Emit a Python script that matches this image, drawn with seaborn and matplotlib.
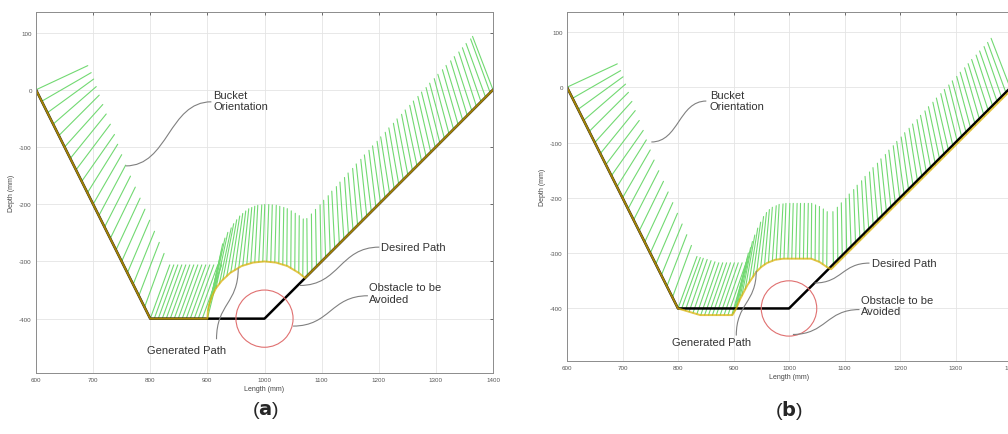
import numpy as np
import pandas as pd
import matplotlib
matplotlib.use('Agg')
import matplotlib.pyplot as plt
from matplotlib.path import Path
from matplotlib.patches import PathPatch, Circle
import seaborn as sns

sns.set_style('white')
plt.rcParams['font.family'] = ['Liberation Sans', 'DejaVu Sans']
plt.rcParams['axes.unicode_minus'] = False

# ---- values (mm) ----
desired_x = [600, 800, 1000, 1400]
desired_y = [0, -400, -400, 0]

obstacle_center = (1000, -400)
obstacle_radius = 50
bucket_len = 100

x_ticks = [600, 700, 800, 900, 1000, 1100, 1200, 1300, 1400]
y_ticks = [-400, -300, -200, -100, 0, 100]

# generated path, panel (a)
gen_a_x = [600, 800, 900, 901, 903, 908, 915, 925, 940, 960, 980, 1000, 1020, 1040, 1060, 1071, 1400]
gen_a_y = [0, -400, -400, -386, -376, -361, -347, -334, -320, -308, -302, -300, -302, -308, -320, -329, 0]

# generated path, panel (b)
gen_b_x = [600, 800, 840, 898, 905, 912, 925, 941, 950, 960, 975, 990, 1040, 1055, 1068, 1076, 1405]
gen_b_y = [0, -400, -412, -412, -400, -383, -358, -334, -325, -318, -312, -310, -310, -316, -325, -329, 0]

# bucket orientation: (x on path, angle in degrees)
bucket_slope = [(600, 25), (610, 30), (620, 36), (630, 41), (640, 45), (650, 48), (660, 51),
                (670, 53), (680, 55), (690, 58), (700, 60), (710, 62), (720, 63), (730, 64),
                (740, 65), (750, 66), (760, 67), (770, 68), (780, 69), (790, 70), (800, 70)]

bucket_a_flat = [(807, 70), (814, 70), (821, 70), (828, 70), (835, 70), (842, 70), (849, 70),
                 (856, 70), (863, 70), (870, 70), (877, 70), (884, 70), (891, 70)]
bucket_a_arc = [(900, 76), (901, 77), (903, 77), (906, 78), (910, 78), (915, 78), (921, 78),
                (927, 79), (934, 80), (941, 81), (948, 82), (955, 83), (962, 84), (969, 85),
                (976, 86), (983, 87), (990, 87), (997, 88), (1004, 88), (1011, 88.5), (1018, 88.5),
                (1025, 89), (1032, 89), (1039, 89.5), (1046, 89.5), (1053, 89.5), (1060, 89.5), (1067, 89.5)]
bucket_a_rise = [(1075, 90.5), (1083, 90.5), (1091, 91), (1099, 91), (1107, 92), (1115, 92), (1123, 93),
                 (1131, 93), (1139, 94), (1147, 94), (1155, 95), (1163, 95), (1171, 96), (1179, 96),
                 (1187, 97), (1195, 97), (1203, 98), (1211, 98), (1219, 99), (1227, 99), (1235, 100),
                 (1243, 100), (1251, 101), (1259, 101), (1267, 102), (1275, 102), (1283, 103),
                 (1291, 103), (1299, 104), (1307, 104), (1315, 105), (1323, 105), (1331, 106),
                 (1339, 106), (1347, 107), (1355, 107), (1363, 108), (1371, 108), (1379, 109),
                 (1387, 110), (1395, 110), (1400, 111)]

bucket_b_flat = [(806, 70), (813, 71), (820, 71), (827, 71), (834, 71), (841, 71), (848, 71),
                 (855, 71), (862, 71), (869, 71), (876, 71), (883, 71), (890, 71)]
bucket_b_arc = [(897, 74), (900, 76), (903, 77), (906, 78), (910, 78), (915, 79), (921, 80),
                (928, 81), (935, 82), (942, 83), (949, 84), (956, 85), (963, 86), (970, 86),
                (977, 87), (984, 87), (991, 88), (998, 88), (1005, 88.5), (1012, 88.5), (1019, 89),
                (1026, 89), (1033, 89), (1040, 89.5), (1047, 89.5), (1054, 89.5), (1061, 89.5), (1068, 89.5)]
bucket_b_rise = [(1080, 90.5), (1088, 90.5), (1096, 91), (1104, 91), (1112, 92), (1120, 92), (1128, 93),
                 (1136, 93), (1144, 94), (1152, 94), (1160, 95), (1168, 95), (1176, 96), (1184, 96),
                 (1192, 97), (1200, 97), (1208, 98), (1216, 98), (1224, 99), (1232, 99), (1240, 100),
                 (1248, 100), (1256, 101), (1264, 101), (1272, 102), (1280, 102), (1288, 103),
                 (1296, 103), (1304, 104), (1312, 104), (1320, 105), (1328, 105), (1336, 106),
                 (1344, 106), (1352, 107), (1360, 108), (1368, 108), (1376, 109), (1384, 109),
                 (1392, 110), (1400, 111)]

# label layout (text anchor, connector start, connector end), data coords
notes_a = [
    ('Bucket\nOrientation', (910, -18), 'left', (907, -21), (757, -133), False),
    ('Generated Path', (863, -454), 'center', (916, -436), (954, -312), True),
    ('Desired Path', (1204, -275), 'left', (1201, -275), (1062, -342), False),
    ('Obstacle to be\nAvoided', (1183, -355), 'left', (1181, -360), (1050, -413), False),
]
notes_b = [
    ('Bucket\nOrientation', (857, -24), 'left', (851, -25), (752, -99), False),
    ('Generated Path', (861, -460), 'center', (905, -449), (941, -332), True),
    ('Desired Path', (1149, -318), 'left', (1145, -318), (1046, -354), False),
    ('Obstacle to be\nAvoided', (1129, -394), 'left', (1127, -402), (1007, -447), False),
]


def hatch_frame(path_x, path_y, buckets):
    rows = []
    for i, (bx, deg) in enumerate(buckets):
        by = np.interp(bx, path_x, path_y)  # foot of the bucket sits on the generated path
        t = np.radians(deg)
        rows.append((i, bx, by))
        rows.append((i, bx + bucket_len * np.cos(t), by + bucket_len * np.sin(t)))
    return pd.DataFrame(rows, columns=['line', 'x', 'y'])


def connector(ax, start, end, vertical):
    (x0, y0), (x1, y1) = start, end
    if vertical:
        ym = (y0 + y1) / 2
        verts = [(x0, y0), (x0, ym), (x1, ym), (x1, y1)]
    else:
        xm = (x0 + x1) / 2
        verts = [(x0, y0), (xm, y0), (xm, y1), (x1, y1)]
    codes = [Path.MOVETO, Path.CURVE4, Path.CURVE4, Path.CURVE4]
    ax.add_patch(PathPatch(Path(verts, codes), fill=False, ec='#808080', lw=0.8, zorder=6))


def draw_panel(ax, gen_x, gen_y, buckets, notes):
    hatch = hatch_frame(gen_x, gen_y, buckets)
    sns.lineplot(data=hatch, x='x', y='y', units='line', estimator=None, sort=False,
                 color='#72d972', lw=0.8, snap=False, ax=ax)
    sns.lineplot(x=desired_x, y=desired_y, sort=False, estimator=None,
                 color='black', lw=1.8, ax=ax)
    sns.lineplot(x=gen_x, y=gen_y, sort=False, estimator=None,
                 color='#dcb20c', lw=1.4, alpha=0.75, ax=ax)
    ax.add_patch(Circle(obstacle_center, obstacle_radius, fill=False, ec='#e07070', lw=0.8, zorder=5))

    for text, pos, ha, start, end, vertical in notes:
        ax.text(pos[0], pos[1], text, ha=ha, va='center', fontsize=8, color='#333333',
                linespacing=1.15, zorder=7)
        connector(ax, start, end, vertical)

    ax.set_xlim(600, 1400)
    ax.set_ylim(-495, 136)
    ax.set_xticks(x_ticks)
    ax.set_yticks(y_ticks)
    ax.tick_params(direction='in', length=2.5, width=0.6, top=True, right=True,
                   labelsize=4.5, colors='#555555', pad=3)
    ax.grid(True, color='#e4e4e4', lw=0.6)
    ax.set_axisbelow(True)
    for s in ax.spines.values():
        s.set_color('#8c8c8c')
        s.set_linewidth(0.7)
    ax.set_xlabel('Length (mm)', fontsize=5, color='#444444', labelpad=2)
    ax.set_ylabel('Depth (mm)', fontsize=5, color='#444444', labelpad=3)


fig = plt.figure(figsize=(10.08, 4.35), dpi=100)
ax_a = fig.add_axes([36 / 1008, 61 / 435, 457 / 1008, 361 / 435])
ax_b = fig.add_axes([567 / 1008, 73 / 435, 444 / 1008, 349 / 435])

draw_panel(ax_a, gen_a_x, gen_a_y, bucket_slope + bucket_a_flat + bucket_a_arc + bucket_a_rise, notes_a)
draw_panel(ax_b, gen_b_x, gen_b_y, bucket_slope + bucket_b_flat + bucket_b_arc + bucket_b_rise, notes_b)

fig.text(265 / 1008, 1 - 411 / 435, r'($\mathbf{a}$)', ha='center', va='center', fontsize=14)
fig.text(789 / 1008, 1 - 411 / 435, r'($\mathbf{b}$)', ha='center', va='center', fontsize=14)

fig.savefig('out.png', dpi=100)
